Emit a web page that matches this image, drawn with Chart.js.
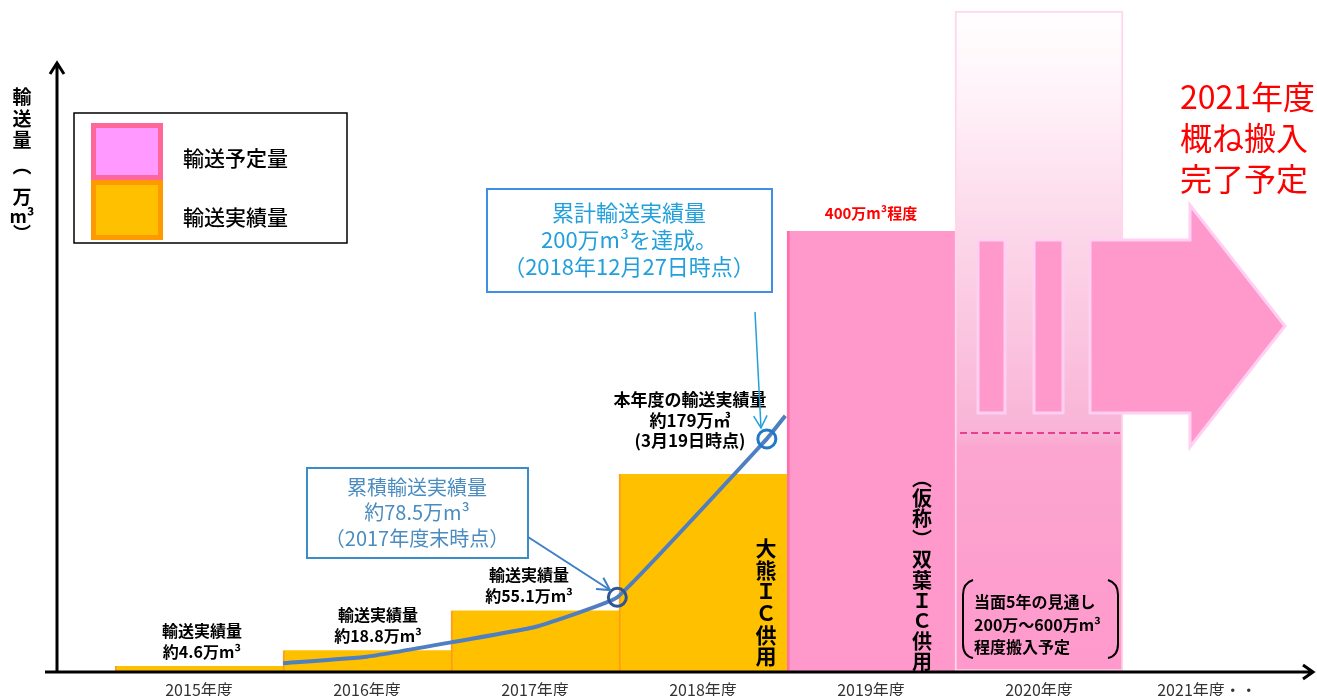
<!DOCTYPE html>
<html lang="ja">
<head>
<meta charset="UTF-8">
<title>輸送量の推移</title>
<script src="https://cdn.jsdelivr.net/npm/chart.js"></script>
<style>
  body { margin: 0; background: #fff; }
  canvas { display: block; }
</style>
</head>
<body>
<canvas id="yusou" width="1317" height="696"></canvas>
<script>
// 年度
const nendo = ["2015年度", "2016年度", "2017年度", "2018年度", "2019年度", "2020年度", "2021年度・・"];
// 輸送実績量（万m3）
const jisseki = [4.6, 18.8, 55.1, 179, null, null, null];
// 輸送予定量（万m3）
const yotei = [null, null, null, null, 400, 600, null];
// 累積の線 (x: 0 = 2015年度の始め, 1 = 2016年度の始め ...)
const ruisekiX = [1.0, 1.5, 2.0, 2.5, 2.99, 3.88, 3.99];
const ruisekiY = [7, 13, 26, 40, 67, 211, 232];
const maruIdx = [4, 5];
const jissekiLabel = ["約4.6万m³", "約18.8万m³", "約55.1万m³"];
const yMax = 600;

const JP = '"Noto Sans CJK JP", sans-serif';
function f(size, w) { return (w || 'normal') + ' ' + size + 'px ' + JP; }

function lines(ctx, arr, x, y, lh, font, color, align) {
    ctx.font = font;
    ctx.fillStyle = color;
    ctx.textAlign = align || 'center';
    ctx.textBaseline = 'middle';
    arr.forEach((t, i) => ctx.fillText(t, x, y + i * lh));
}

// 縦書き
function tate(ctx, chars, x, y, step, font, color) {
    ctx.font = font;
    ctx.fillStyle = color;
    ctx.textAlign = 'center';
    ctx.textBaseline = 'middle';
    chars.forEach((c, i) => ctx.fillText(c, x, y + i * step));
}

function yajirushi(ctx, x1, y1, x2, y2, color, w, head) {
    ctx.strokeStyle = color;
    ctx.lineWidth = w;
    ctx.beginPath();
    ctx.moveTo(x1, y1);
    ctx.lineTo(x2, y2);
    ctx.stroke();
    const a = Math.atan2(y2 - y1, x2 - x1);
    ctx.beginPath();
    ctx.moveTo(x2 - head * Math.cos(a - 0.5), y2 - head * Math.sin(a - 0.5));
    ctx.lineTo(x2, y2);
    ctx.lineTo(x2 - head * Math.cos(a + 0.5), y2 - head * Math.sin(a + 0.5));
    ctx.stroke();
}

const kazari = {
    id: 'kazari',
    afterDatasetsDraw(chart) {
        const ctx = chart.ctx;
        const xs = chart.scales.x, ys = chart.scales.y;
        const half = (xs.getPixelForValue(1) - xs.getPixelForValue(0)) / 2;
        const l20 = xs.getPixelForValue(5) - half;
        ctx.save();

        // 2020年度の柱と矢印
        ctx.lineWidth = 3;
        ctx.strokeStyle = '#ffd0f4';
        ctx.fillStyle = '#ff99cc';
        [[23, 50], [79, 108]].forEach(p => {
            ctx.fillRect(l20 + p[0], 240, p[1] - p[0], 173);
            ctx.strokeRect(l20 + p[0], 240, p[1] - p[0], 173);
        });
        ctx.beginPath();
        ctx.moveTo(l20 + 135, 240);
        ctx.lineTo(l20 + 235, 240);
        ctx.lineTo(l20 + 235, 205);
        ctx.lineTo(l20 + 330, 326);
        ctx.lineTo(l20 + 235, 447);
        ctx.lineTo(l20 + 235, 413);
        ctx.lineTo(l20 + 135, 413);
        ctx.closePath();
        ctx.fill();
        ctx.stroke();

        // 点線
        ctx.setLineDash([7, 4]);
        ctx.strokeStyle = '#e8408f';
        ctx.lineWidth = 2;
        ctx.beginPath();
        ctx.moveTo(l20 + 5, 433);
        ctx.lineTo(l20 + 165, 433);
        ctx.stroke();
        ctx.setLineDash([]);

        // 右上の赤い文字
        lines(ctx, ["2021年度", "概ね搬入", "完了予定"], 1180, 97, 41, f(32), '#ff0000', 'left');

        // 凡例
        ctx.strokeStyle = '#000';
        ctx.lineWidth = 1.5;
        ctx.strokeRect(74, 113, 273, 130);
        ctx.fillStyle = '#ff6699'; ctx.fillRect(91, 123, 72, 57);
        ctx.fillStyle = '#ff99ff'; ctx.fillRect(96, 128, 62, 47);
        ctx.fillStyle = '#ff9900'; ctx.fillRect(91, 180, 72, 60);
        ctx.fillStyle = '#ffc000'; ctx.fillRect(96, 185, 62, 50);
        lines(ctx, ["輸送予定量"], 183, 158, 0, f(21, '500'), '#000', 'left');
        lines(ctx, ["輸送実績量"], 183, 217, 0, f(21, '500'), '#000', 'left');

        // 縦軸タイトル
        tate(ctx, ['輸', '送', '量'], 22, 97, 21.5, f(19, 'bold'), '#000');
        tate(ctx, ['︵', '万'], 22, 166, 31, f(19, 'bold'), '#000');
        tate(ctx, ['m³', '︶'], 22, 216, 17, f(18, 'bold'), '#000');

        // 各年度の実績ラベル
        const dx = [3, 11, -6];
        jissekiLabel.forEach((t, i) => {
            const x = xs.getPixelForValue(i) + dx[i];
            const y = ys.getPixelForValue(jisseki[i]) - 35;
            lines(ctx, ["輸送実績量", t], x, y, 21, f(16, 'bold'), '#000');
        });
        lines(ctx, ["本年度の輸送実績量", "約179万㎥", "(3月19日時点)"], 690, 400, 20.5, f(17, 'bold'), '#000');
        lines(ctx, ["400万m³程度"], xs.getPixelForValue(4), 213, 0, f(15, 'bold'), '#ff0000');

        // 吹き出し
        ctx.strokeStyle = '#3d8fe8';
        ctx.lineWidth = 2;
        ctx.strokeRect(487, 189, 285, 103);
        lines(ctx, ["累計輸送実績量", "200万m³を達成。", "（2018年12月27日時点）"], 629, 213, 27, f(22), '#22a0dc');
        yajirushi(ctx, 755, 312, 761, 428, '#22a0dc', 1.5, 14);

        ctx.strokeStyle = '#3c8cc8';
        ctx.lineWidth = 2;
        ctx.strokeRect(307, 468, 221, 90);
        lines(ctx, ["累積輸送実績量", "約78.5万m³", "（2017年度末時点）"], 417, 487, 25.5, f(20), '#4a8cc0');
        yajirushi(ctx, 528, 537, 610, 590, '#3c7fc4', 2, 14);

        // 縦書きの説明
        tate(ctx, [...'大熊ＩＣ供用'], xs.getPixelForValue(3) + 63, 548, 21.7, f(21, 'bold'), '#000');
        tate(ctx, [...'︵仮称︶双葉ＩＣ供用'], xs.getPixelForValue(4) + 51, 478, 20.4, f(20, 'bold'), '#000');

        // 当面5年の見通し
        ctx.strokeStyle = '#000';
        ctx.lineWidth = 2;
        ctx.beginPath();
        ctx.moveTo(973, 580);
        ctx.quadraticCurveTo(963, 583, 963, 595);
        ctx.lineTo(963, 644);
        ctx.quadraticCurveTo(963, 656, 973, 658);
        ctx.moveTo(1108, 580);
        ctx.quadraticCurveTo(1118, 583, 1118, 595);
        ctx.lineTo(1118, 644);
        ctx.quadraticCurveTo(1118, 656, 1108, 658);
        ctx.stroke();
        lines(ctx, ["当面5年の見通し", "200万～600万m³", "程度搬入予定"], 974, 602, 22.5, f(16, 'bold'), '#000', 'left');

        // 軸と矢印
        const base = ys.getPixelForValue(0) + 1;
        ctx.strokeStyle = '#000';
        ctx.lineWidth = 3;
        ctx.beginPath();
        ctx.moveTo(45, base);
        ctx.lineTo(1313, base);
        ctx.moveTo(1303, base - 7);
        ctx.lineTo(1313, base);
        ctx.lineTo(1303, base + 7);
        ctx.moveTo(57, base + 1);
        ctx.lineTo(57, 63);
        ctx.moveTo(50, 74);
        ctx.lineTo(57, 63);
        ctx.lineTo(64, 74);
        ctx.stroke();

        ctx.restore();
    }
};

function yoteiIro(c) {
    if (c.dataIndex !== 5) return '#ff99cc';
    const area = c.chart.chartArea;
    if (!area) return '#ff99cc';
    const g = c.chart.ctx.createLinearGradient(0, area.top, 0, area.bottom);
    g.addColorStop(0, '#ffffff');
    g.addColorStop(0.12, '#fff3f9');
    g.addColorStop(0.35, '#fcd5e8');
    g.addColorStop(0.64, '#f9b3d6');
    g.addColorStop(0.66, '#fba6d0');
    g.addColorStop(1, '#ff99cc');
    return g;
}

new Chart(document.getElementById('yusou'), {
    type: 'bar',
    data: {
        labels: nendo,
        datasets: [
            {
                type: 'line',
                label: '累積輸送実績量',
                xAxisID: 'xl',
                data: ruisekiX.map((x, i) => ({ x: x, y: ruisekiY[i] })),
                borderColor: '#4f7fc0',
                borderWidth: 4,
                tension: 0.1,
                pointRadius: c => maruIdx.includes(c.dataIndex) ? 9 : 0,
                pointBorderWidth: 3,
                pointBorderColor: c => c.dataIndex === 4 ? '#2f5597' : '#1f78c8',
                pointBackgroundColor: 'rgba(0,0,0,0)',
                order: 0
            },
            {
                label: '輸送実績量',
                data: jisseki,
                backgroundColor: '#ffc000',
                borderColor: '#ff9d1a',
                borderWidth: { left: 2, top: 0, right: 0, bottom: 0 },
                borderSkipped: false,
                order: 1
            },
            {
                label: '輸送予定量',
                data: yotei,
                backgroundColor: yoteiIro,
                borderColor: c => c.dataIndex === 5 ? '#ffd6ec' : '#ff6fa8',
                borderWidth: c => c.dataIndex === 5 ? 2 : { left: 3, top: 0, right: 0, bottom: 0 },
                borderSkipped: false,
                order: 2
            }
        ]
    },
    options: {
        responsive: false,
        animation: false,
        layout: { padding: { left: 115, right: 26, top: 11, bottom: 0 } },
        datasets: { bar: { barPercentage: 1, categoryPercentage: 1, grouped: false } },
        plugins: { legend: { display: false }, tooltip: { enabled: false } },
        scales: {
            x: {
                grid: { display: false, drawTicks: false },
                border: { display: false },
                ticks: { padding: 9, color: '#333', font: { family: JP, size: 16 } },
                afterFit: s => { s.height = 25; }
            },
            xl: { type: 'linear', display: false, offset: false, min: 0, max: nendo.length },
            y: { display: false, min: 0, max: yMax }
        }
    },
    plugins: [kazari]
});
</script>
</body>
</html>
